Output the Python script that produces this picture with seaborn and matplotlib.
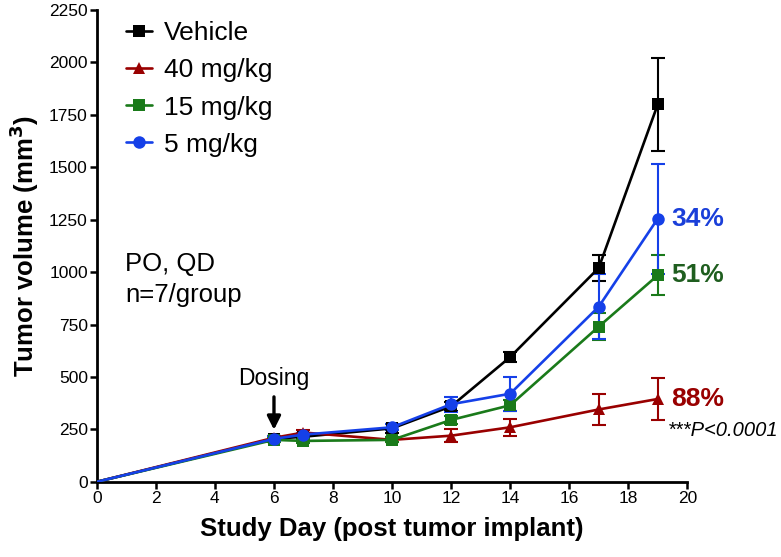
import numpy as np
import pandas as pd
import matplotlib
matplotlib.use("Agg")
import matplotlib.pyplot as plt
import seaborn as sns

# study days
days = [0, 6, 7, 10, 12, 14, 17, 19]

# mean tumor volume (mm3) per group
vehicle = [0, 205, 215, 255, 360, 595, 1020, 1800]
mg40 = [0, 210, 235, 200, 220, 260, 345, 395]
mg15 = [0, 200, 195, 200, 295, 365, 740, 985]
mg5 = [0, 205, 225, 260, 370, 420, 835, 1255]

# SEM
vehicle_err = [0, 15, 10, 20, 20, 25, 62, 220]
mg40_err = [0, 10, 10, 12, 30, 40, 75, 102]
mg15_err = [0, 12, 10, 12, 20, 25, 65, 95]
mg5_err = [0, 12, 10, 15, 35, 80, 155, 262]

groups = ["Vehicle", "40 mg/kg", "15 mg/kg", "5 mg/kg"]
colors = ["#000000", "#990000", "#1a7a1a", "#1540e8"]
markers = ["s", "^", "s", "o"]
inhibition = [None, "88%", "51%", "34%"]
label_colors = [None, "#990000", "#1f5e1f", "#1a3fd9"]

sns.set_style("ticks")
plt.rcParams['font.family'] = ['Liberation Sans', 'DejaVu Sans']
for k in ['text.color', 'axes.labelcolor', 'xtick.color', 'ytick.color',
          'axes.edgecolor']:
    plt.rcParams[k] = 'black'

means = [vehicle, mg40, mg15, mg5]
errs = [vehicle_err, mg40_err, mg15_err, mg5_err]
df = pd.DataFrame({
    'day': days * 4,
    'volume': sum(means, []),
    'group': sum([[g] * len(days) for g in groups], []),
})

fig = plt.figure(figsize=(7.81, 5.57), dpi=100)
ax = fig.add_axes([0.124, 0.135, 0.756, 0.847])

# error bars first, lines on top
for g, m, e, c in zip(groups, means, errs, colors):
    ax.errorbar(days[1:], m[1:], yerr=e[1:], fmt='none', ecolor=c,
                elinewidth=1.5, capsize=5, capthick=1.5, zorder=2)

n_before = len(ax.lines)
sns.lineplot(data=df, x='day', y='volume', hue='group', style='group',
             hue_order=groups, style_order=groups, palette=colors,
             markers=markers, dashes=False, linewidth=1.9, markersize=9,
             markeredgewidth=0, ax=ax, zorder=3)

# hide marker at day 0
for line in ax.lines[n_before:]:
    if len(line.get_xdata()) == len(days):
        line.set_markevery(list(range(1, len(days))))

ax.set_xlim(0, 20)
ax.set_ylim(0, 2250)
ax.set_xticks(range(0, 21, 2))
ax.set_yticks(range(0, 2251, 250))
ax.tick_params(axis='both', labelsize=12.5, width=1.8, length=5,
               direction='out', pad=1.5)
for s in ['left', 'bottom']:
    ax.spines[s].set_linewidth(2)
sns.despine(ax=ax)

ax.set_xlabel('Study Day (post tumor implant)', fontsize=18.5,
              fontweight='bold', labelpad=8)
ax.set_ylabel('Tumor volume (mm$^\\mathbf{3}$)', fontsize=18.5,
              fontweight='bold', labelpad=6)

leg = ax.legend(loc='upper left', bbox_to_anchor=(0.022, 1.01), frameon=False,
                fontsize=19, handlelength=1.0, handletextpad=0.45,
                labelspacing=0.5, borderaxespad=0.2, title=None)

# percent inhibition labels at day 19
for m, txt, c in zip(means, inhibition, label_colors):
    if txt is None:
        continue
    ax.text(19.45, m[-1], txt, color=c, fontsize=19, fontweight='bold',
            va='center', ha='left')
ax.text(19.35, mg40[-1] - 148, '***P<0.0001', fontsize=14.5, style='italic',
        va='center', ha='left', clip_on=False)

ax.text(6, 491, 'Dosing', ha='center', va='center', fontsize=16.5)
ax.annotate('', xy=(6, 248), xytext=(6, 405),
            arrowprops=dict(arrowstyle='-|>', color='black', lw=2.4,
                            shrinkA=0, shrinkB=0, mutation_scale=20))

ax.text(0.95, 1039, 'PO, QD', fontsize=18.5, va='center')
ax.text(0.95, 891, 'n=7/group', fontsize=18.5, va='center')

fig.savefig('out.png', dpi=100)
